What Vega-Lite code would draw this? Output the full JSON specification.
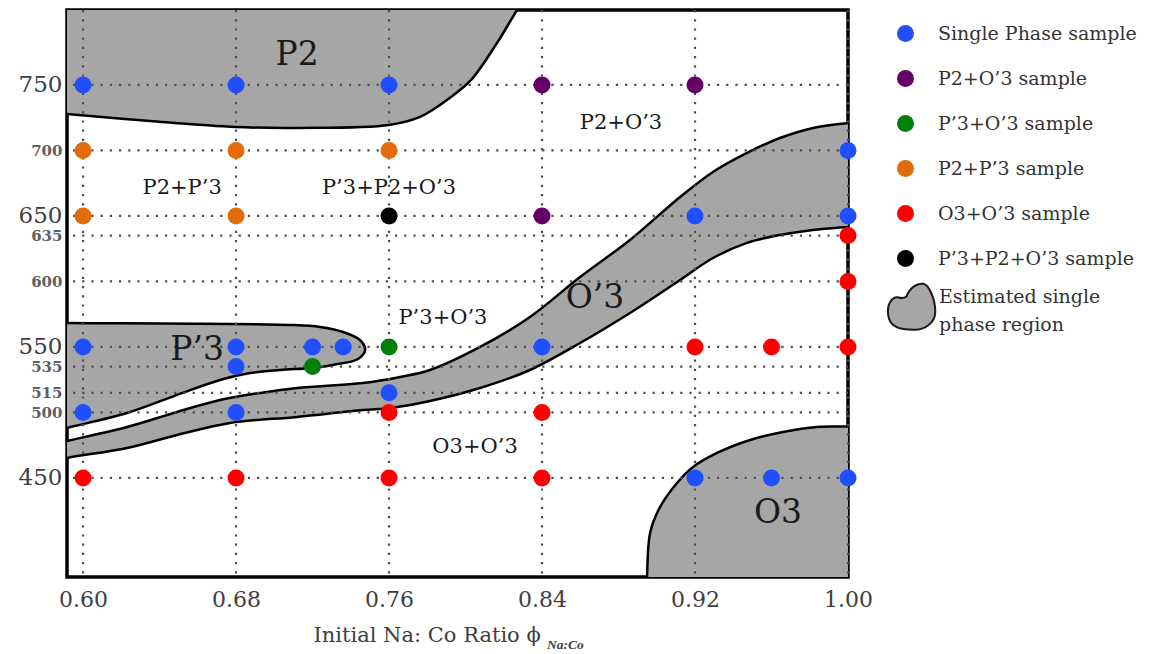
{
  "$schema": "https://vega.github.io/schema/vega-lite/v6.json",
  "autosize": "none",
  "width": 781,
  "height": 567,
  "padding": {"left": 67, "top": 10, "right": 301, "bottom": 77},
  "background": "white",
  "config": {
    "view": {"stroke": "black", "strokeWidth": 3.5},
    "font": "DejaVu Serif",
    "axis": {"grid": false, "ticks": false, "domain": false},
    "style": {"guide-label": {"lineHeight": 28}}
  },
  "datasets": {
    "regions": [
      {"region": "P2", "i": 0, "x": 0.575, "y": 820},
      {"region": "P2", "i": 1, "x": 0.8323, "y": 820},
      {"region": "P2", "i": 2, "x": 0.8269, "y": 807.2},
      {"region": "P2", "i": 3, "x": 0.8165, "y": 782.1},
      {"region": "P2", "i": 4, "x": 0.8029, "y": 753.8},
      {"region": "P2", "i": 5, "x": 0.7924, "y": 740.8},
      {"region": "P2", "i": 6, "x": 0.7762, "y": 725.6},
      {"region": "P2", "i": 7, "x": 0.7600, "y": 719.5},
      {"region": "P2", "i": 8, "x": 0.7135, "y": 717.2},
      {"region": "P2", "i": 9, "x": 0.6800, "y": 717.9},
      {"region": "P2", "i": 10, "x": 0.6350, "y": 722.5},
      {"region": "P2", "i": 11, "x": 0.5916, "y": 727.9},
      {"region": "P2", "i": 12, "x": 0.575, "y": 729.8},
      {"region": "P3", "i": 0, "x": 0.575, "y": 568.5},
      {"region": "P3", "i": 1, "x": 0.5916, "y": 568.3},
      {"region": "P3", "i": 2, "x": 0.7098, "y": 566.8},
      {"region": "P3", "i": 3, "x": 0.7239, "y": 565.3},
      {"region": "P3", "i": 4, "x": 0.7360, "y": 561.4},
      {"region": "P3", "i": 5, "x": 0.7448, "y": 555.3},
      {"region": "P3", "i": 6, "x": 0.7475, "y": 547.7},
      {"region": "P3", "i": 7, "x": 0.7438, "y": 540.8},
      {"region": "P3", "i": 8, "x": 0.7307, "y": 536.3},
      {"region": "P3", "i": 9, "x": 0.7197, "y": 534.0},
      {"region": "P3", "i": 10, "x": 0.7030, "y": 532.4},
      {"region": "P3", "i": 11, "x": 0.6873, "y": 530.1},
      {"region": "P3", "i": 12, "x": 0.6716, "y": 524.8},
      {"region": "P3", "i": 13, "x": 0.6492, "y": 513.4},
      {"region": "P3", "i": 14, "x": 0.6230, "y": 499.6},
      {"region": "P3", "i": 15, "x": 0.5916, "y": 488.2},
      {"region": "P3", "i": 16, "x": 0.575, "y": 482.0},
      {"region": "O'3", "i": 0, "x": 0.575, "y": 472.5},
      {"region": "O'3", "i": 1, "x": 0.5916, "y": 478.2},
      {"region": "O'3", "i": 2, "x": 0.6230, "y": 488.9},
      {"region": "O'3", "i": 3, "x": 0.6492, "y": 500.4},
      {"region": "O'3", "i": 4, "x": 0.6716, "y": 509.5},
      {"region": "O'3", "i": 5, "x": 0.6926, "y": 514.9},
      {"region": "O'3", "i": 6, "x": 0.7119, "y": 518.7},
      {"region": "O'3", "i": 7, "x": 0.7464, "y": 522.5},
      {"region": "O'3", "i": 8, "x": 0.7658, "y": 527.1},
      {"region": "O'3", "i": 9, "x": 0.7814, "y": 532.4},
      {"region": "O'3", "i": 10, "x": 0.8076, "y": 550.0},
      {"region": "O'3", "i": 11, "x": 0.8337, "y": 572.9},
      {"region": "O'3", "i": 12, "x": 0.8599, "y": 603.4},
      {"region": "O'3", "i": 13, "x": 0.8860, "y": 631.7},
      {"region": "O'3", "i": 14, "x": 0.9122, "y": 664.5},
      {"region": "O'3", "i": 15, "x": 0.9294, "y": 683.6},
      {"region": "O'3", "i": 16, "x": 0.9472, "y": 698.1},
      {"region": "O'3", "i": 17, "x": 0.9644, "y": 709.5},
      {"region": "O'3", "i": 18, "x": 0.9817, "y": 717.2},
      {"region": "O'3", "i": 19, "x": 1.0, "y": 721.0},
      {"region": "O'3", "i": 20, "x": 1.015, "y": 723.5},
      {"region": "O'3", "i": 21, "x": 1.015, "y": 641.8},
      {"region": "O'3", "i": 22, "x": 1.0, "y": 641.6},
      {"region": "O'3", "i": 23, "x": 0.9817, "y": 639.3},
      {"region": "O'3", "i": 24, "x": 0.9644, "y": 635.5},
      {"region": "O'3", "i": 25, "x": 0.9472, "y": 629.4},
      {"region": "O'3", "i": 26, "x": 0.9294, "y": 617.9},
      {"region": "O'3", "i": 27, "x": 0.9122, "y": 601.1},
      {"region": "O'3", "i": 28, "x": 0.8860, "y": 575.9},
      {"region": "O'3", "i": 29, "x": 0.8599, "y": 553.0},
      {"region": "O'3", "i": 30, "x": 0.8337, "y": 532.4},
      {"region": "O'3", "i": 31, "x": 0.8076, "y": 518.7},
      {"region": "O'3", "i": 32, "x": 0.7814, "y": 508.8},
      {"region": "O'3", "i": 33, "x": 0.7605, "y": 503.4},
      {"region": "O'3", "i": 34, "x": 0.7464, "y": 501.9},
      {"region": "O'3", "i": 35, "x": 0.7119, "y": 496.6},
      {"region": "O'3", "i": 36, "x": 0.6769, "y": 492.0},
      {"region": "O'3", "i": 37, "x": 0.6492, "y": 482.8},
      {"region": "O'3", "i": 38, "x": 0.6230, "y": 472.9},
      {"region": "O'3", "i": 39, "x": 0.5916, "y": 465.3},
      {"region": "O'3", "i": 40, "x": 0.575, "y": 460.0},
      {"region": "O3", "i": 0, "x": 0.8945, "y": 360.0},
      {"region": "O3", "i": 1, "x": 0.8949, "y": 374.4},
      {"region": "O3", "i": 2, "x": 0.8965, "y": 408.0},
      {"region": "O3", "i": 3, "x": 0.9017, "y": 427.8},
      {"region": "O3", "i": 4, "x": 0.9106, "y": 446.2},
      {"region": "O3", "i": 5, "x": 0.9190, "y": 458.4},
      {"region": "O3", "i": 6, "x": 0.9315, "y": 469.1},
      {"region": "O3", "i": 7, "x": 0.9488, "y": 479.0},
      {"region": "O3", "i": 8, "x": 0.9660, "y": 485.1},
      {"region": "O3", "i": 9, "x": 0.9838, "y": 488.9},
      {"region": "O3", "i": 10, "x": 1.0, "y": 489.2},
      {"region": "O3", "i": 11, "x": 1.015, "y": 489.2},
      {"region": "O3", "i": 12, "x": 1.015, "y": 360.0}
    ],
    "vgrid": [{"x": 0.60}, {"x": 0.68}, {"x": 0.76}, {"x": 0.84}, {"x": 0.92}, {"x": 1.00}],
    "hgrid": [{"y": 750}, {"y": 700}, {"y": 650}, {"y": 635}, {"y": 600}, {"y": 550}, {"y": 535}, {"y": 515}, {"y": 500}, {"y": 450}],
    "points": [
      {"x": 0.60, "y": 750, "type": "Single Phase sample"},
      {"x": 0.68, "y": 750, "type": "Single Phase sample"},
      {"x": 0.76, "y": 750, "type": "Single Phase sample"},
      {"x": 0.84, "y": 750, "type": "P2+O’3 sample"},
      {"x": 0.92, "y": 750, "type": "P2+O’3 sample"},
      {"x": 0.60, "y": 700, "type": "P2+P’3 sample"},
      {"x": 0.68, "y": 700, "type": "P2+P’3 sample"},
      {"x": 0.76, "y": 700, "type": "P2+P’3 sample"},
      {"x": 1.00, "y": 700, "type": "Single Phase sample"},
      {"x": 0.60, "y": 650, "type": "P2+P’3 sample"},
      {"x": 0.68, "y": 650, "type": "P2+P’3 sample"},
      {"x": 0.76, "y": 650, "type": "P’3+P2+O’3 sample"},
      {"x": 0.84, "y": 650, "type": "P2+O’3 sample"},
      {"x": 0.92, "y": 650, "type": "Single Phase sample"},
      {"x": 1.00, "y": 650, "type": "Single Phase sample"},
      {"x": 1.00, "y": 635, "type": "O3+O’3 sample"},
      {"x": 1.00, "y": 600, "type": "O3+O’3 sample"},
      {"x": 0.60, "y": 550, "type": "Single Phase sample"},
      {"x": 0.68, "y": 550, "type": "Single Phase sample"},
      {"x": 0.72, "y": 550, "type": "Single Phase sample"},
      {"x": 0.736, "y": 550, "type": "Single Phase sample"},
      {"x": 0.76, "y": 550, "type": "P’3+O’3 sample"},
      {"x": 0.84, "y": 550, "type": "Single Phase sample"},
      {"x": 0.92, "y": 550, "type": "O3+O’3 sample"},
      {"x": 0.96, "y": 550, "type": "O3+O’3 sample"},
      {"x": 1.00, "y": 550, "type": "O3+O’3 sample"},
      {"x": 0.68, "y": 535, "type": "Single Phase sample"},
      {"x": 0.72, "y": 535, "type": "P’3+O’3 sample"},
      {"x": 0.76, "y": 515, "type": "Single Phase sample"},
      {"x": 0.60, "y": 500, "type": "Single Phase sample"},
      {"x": 0.68, "y": 500, "type": "Single Phase sample"},
      {"x": 0.76, "y": 500, "type": "O3+O’3 sample"},
      {"x": 0.84, "y": 500, "type": "O3+O’3 sample"},
      {"x": 0.60, "y": 450, "type": "O3+O’3 sample"},
      {"x": 0.68, "y": 450, "type": "O3+O’3 sample"},
      {"x": 0.76, "y": 450, "type": "O3+O’3 sample"},
      {"x": 0.84, "y": 450, "type": "O3+O’3 sample"},
      {"x": 0.92, "y": 450, "type": "Single Phase sample"},
      {"x": 0.96, "y": 450, "type": "Single Phase sample"},
      {"x": 1.00, "y": 450, "type": "Single Phase sample"}
    ],
    "labels": [
      {"label": "P2", "kind": "single", "x": 0.7119, "y": 772.9},
      {"label": "O’3", "kind": "single", "x": 0.8677, "y": 587.4},
      {"label": "P’3", "kind": "single", "x": 0.6596, "y": 547.7},
      {"label": "O3", "kind": "single", "x": 0.9634, "y": 423.3},
      {"label": "P2+O’3", "kind": "mixture", "x": 0.8813, "y": 721.0},
      {"label": "P2+P’3", "kind": "mixture", "x": 0.6518, "y": 671.4},
      {"label": "P’3+P2+O’3", "kind": "mixture", "x": 0.7600, "y": 671.4},
      {"label": "P’3+O’3", "kind": "mixture", "x": 0.7882, "y": 572.1},
      {"label": "O3+O’3", "kind": "mixture", "x": 0.8050, "y": 473.6}
    ],
    "sub": [{"label": "Na:Co", "x": 0.8426, "y": 322.5}]
  },
  "layer": [
    {
      "data": {"name": "regions"},
      "mark": {"type": "line", "stroke": "black", "strokeWidth": 2.5, "interpolate": "catmull-rom", "clip": true},
      "encoding": {
        "x": {"field": "x", "type": "quantitative", "scale": {"domain": [0.5916, 1.0], "nice": false, "zero": false}},
        "y": {"field": "y", "type": "quantitative", "scale": {"domain": [374.4, 807.2], "nice": false, "zero": false}},
        "fill": {
          "datum": "Estimated single phase region", "type": "nominal",
          "scale": {"domain": ["Estimated single phase region"], "range": ["#a6a6a6"]},
          "legend": {
            "title": null,
            "orient": "none", "legendX": 832, "legendY": 277,
            "symbolType": "M-0.25,0.0 C0.15,-1.0 0.95,-1.6 1.75,-1.5 C2.35,-1.4 3.15,0.2 3.15,1.8 C3.15,3.2 1.75,4.0 0.55,3.9 C-0.85,3.9 -2.25,3.7 -2.4,2.1 C-2.55,0.8 -1.85,0.0 -1.25,0.1 C-0.85,0.2 -0.55,0.3 -0.25,0.0 Z",
            "symbolSize": 289, "symbolStrokeColor": "#1a1a1a", "symbolStrokeWidth": 2, "symbolFillColor": "#a6a6a6",
            "labelFont": "DejaVu Serif", "labelFontSize": 19, "labelColor": "#333333",
            "labelOffset": 21, "labelLimit": 400,
            "labelExpr": "['Estimated single', 'phase region']"
          }
        },
        "detail": {"field": "region"},
        "order": {"field": "i", "type": "quantitative"}
      }
    },
    {
      "data": {"name": "vgrid"},
      "mark": {"type": "rule", "color": "#4d4d4d", "strokeWidth": 2.2, "strokeDash": [2.2, 7]},
      "encoding": {
        "x": {"field": "x", "type": "quantitative", "scale": {"domain": [0.5916, 1.0], "nice": false, "zero": false}}
      }
    },
    {
      "data": {"name": "hgrid"},
      "mark": {"type": "rule", "color": "#4d4d4d", "strokeWidth": 2.2, "strokeDash": [2.2, 7]},
      "encoding": {
        "y": {"field": "y", "type": "quantitative", "scale": {"domain": [374.4, 807.2], "nice": false, "zero": false}}
      }
    },
    {
      "data": {"name": "labels"},
      "transform": [{"filter": "datum.kind == 'mixture'"}],
      "mark": {"type": "text", "font": "DejaVu Serif", "fontSize": 21, "color": "#1a1a1a", "baseline": "middle", "align": "center"},
      "encoding": {
        "x": {"field": "x", "type": "quantitative", "scale": {"domain": [0.5916, 1.0], "nice": false, "zero": false}},
        "y": {"field": "y", "type": "quantitative", "scale": {"domain": [374.4, 807.2], "nice": false, "zero": false}},
        "text": {"field": "label"}
      }
    },
    {
      "data": {"name": "labels"},
      "transform": [{"filter": "datum.kind == 'single'"}],
      "mark": {"type": "text", "font": "DejaVu Serif", "fontSize": 33, "color": "#1a1a1a", "baseline": "middle", "align": "center"},
      "encoding": {
        "x": {"field": "x", "type": "quantitative", "scale": {"domain": [0.5916, 1.0], "nice": false, "zero": false}},
        "y": {"field": "y", "type": "quantitative", "scale": {"domain": [374.4, 807.2], "nice": false, "zero": false}},
        "text": {"field": "label"}
      }
    },
    {
      "data": {"name": "sub"},
      "mark": {"type": "text", "font": "Liberation Serif", "fontSize": 13.5, "fontWeight": "bold", "fontStyle": "italic", "color": "#404040", "baseline": "middle", "align": "left"},
      "encoding": {
        "x": {"field": "x", "type": "quantitative", "scale": {"domain": [0.5916, 1.0], "nice": false, "zero": false}},
        "y": {"field": "y", "type": "quantitative", "scale": {"domain": [374.4, 807.2], "nice": false, "zero": false}},
        "text": {"field": "label"}
      }
    },
    {
      "data": {"name": "points"},
      "mark": {"type": "circle", "opacity": 1, "size": 289},
      "encoding": {
        "x": {
          "field": "x", "type": "quantitative",
          "scale": {"domain": [0.5916, 1.0], "nice": false, "zero": false},
          "axis": {
            "values": [0.60, 0.68, 0.76, 0.84, 0.92, 1.00],
            "format": ".2f",
            "grid": false, "ticks": false, "domain": false,
            "labelFont": "DejaVu Serif", "labelFontSize": 22, "labelColor": "#404040",
            "labelPadding": 12, "labelFlush": false, "labelOverlap": false,
            "title": "Initial Na: Co Ratio ϕ",
            "titleFont": "DejaVu Serif", "titleFontSize": 21, "titleFontWeight": "normal", "titleColor": "#404040",
            "titleAlign": "left", "titleBaseline": "middle", "titleX": 246, "titleY": 58
          }
        },
        "y": {
          "field": "y", "type": "quantitative",
          "scale": {"domain": [374.4, 807.2], "nice": false, "zero": false},
          "axis": {
            "values": [750, 700, 650, 635, 600, 550, 535, 515, 500, 450],
            "grid": false, "ticks": false, "domain": false, "title": null,
            "labelFont": "DejaVu Serif", "labelOverlap": false, "labelPadding": 5,
            "labelFontSize": {"condition": {"test": "datum.value == 750 || datum.value == 650 || datum.value == 550 || datum.value == 450", "value": 23}, "value": 15},
            "labelFontWeight": {"condition": {"test": "datum.value == 750 || datum.value == 650 || datum.value == 550 || datum.value == 450", "value": "normal"}, "value": "bold"},
            "labelColor": {"condition": {"test": "datum.value == 750 || datum.value == 650 || datum.value == 550 || datum.value == 450", "value": "#404040"}, "value": "#606060"}
          }
        },
        "color": {
          "field": "type", "type": "nominal",
          "scale": {
            "domain": ["Single Phase sample", "P2+O’3 sample", "P’3+O’3 sample", "P2+P’3 sample", "O3+O’3 sample", "P’3+P2+O’3 sample"],
            "range": ["#1f4fff", "#660066", "#00800a", "#e36c0a", "#ff0000", "#000000"]
          },
          "legend": {
            "title": null,
            "orient": "none", "legendX": 829, "legendY": 14,
            "symbolType": "circle", "symbolSize": 289, "symbolStrokeWidth": 0,
            "labelFont": "DejaVu Serif", "labelFontSize": 19, "labelColor": "#333333",
            "labelOffset": 23, "labelLimit": 400, "rowPadding": 25
          }
        }
      }
    }
  ]
}
